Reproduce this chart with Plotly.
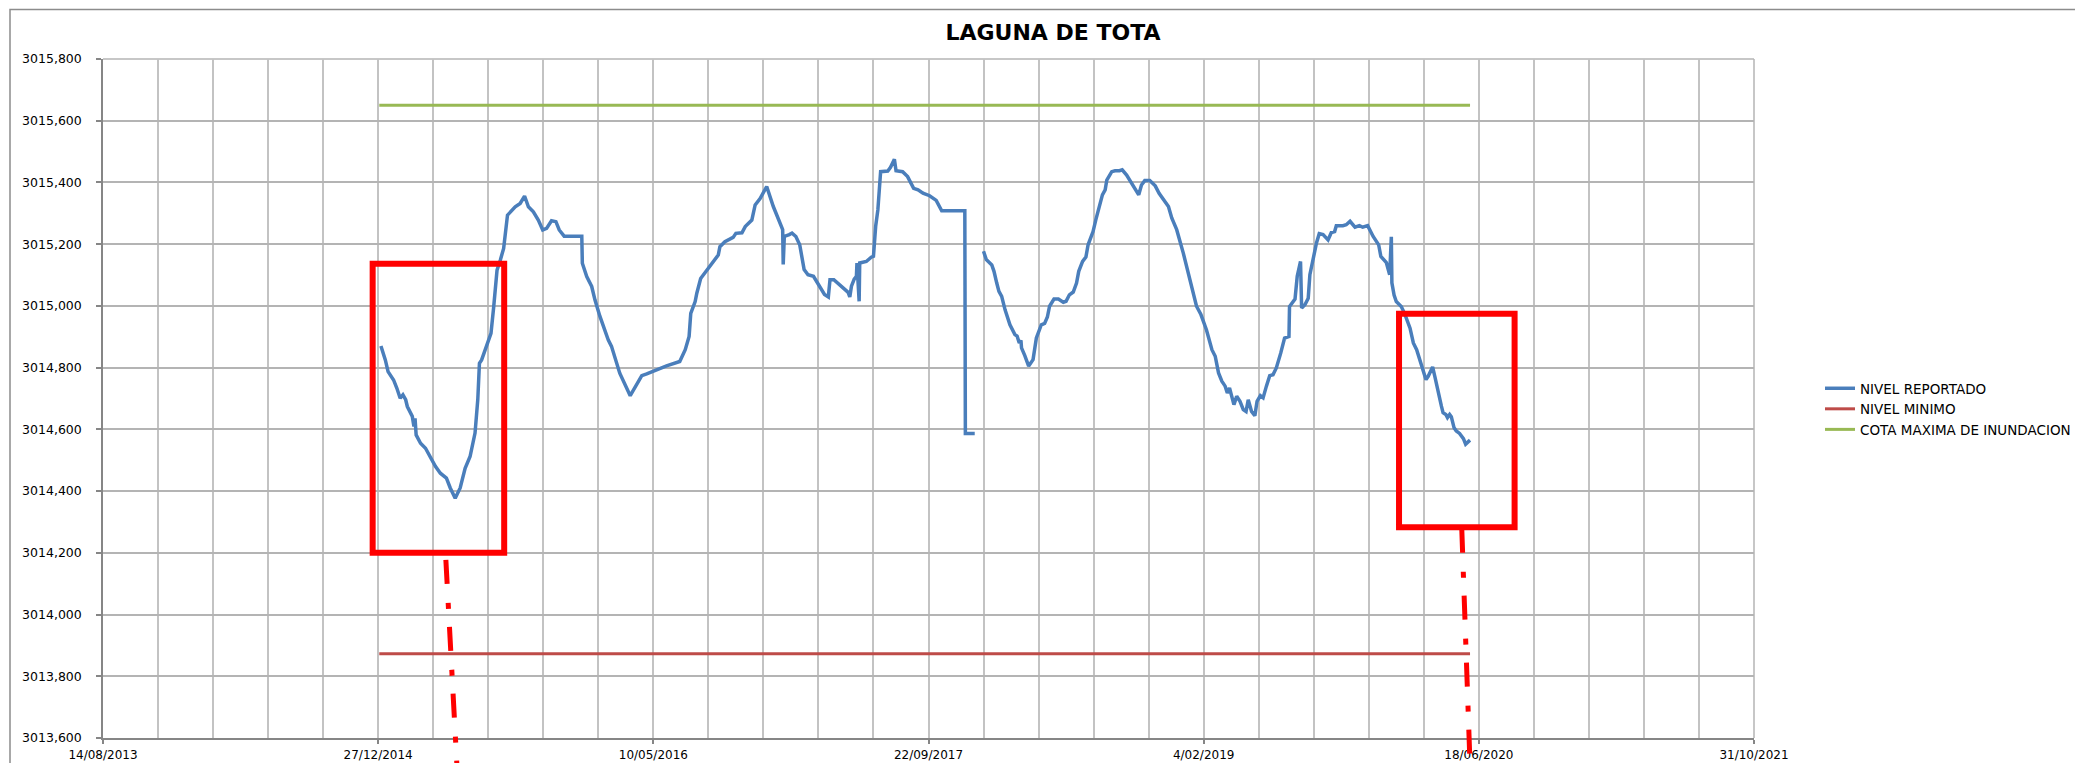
import datetime as dt
import plotly.graph_objects as go

# ---------------- data ----------------
base_date = dt.date(2013, 8, 14)

# days since 14/08/2013 for each reported level reading
dias_reportado = [
    505, 513, 518, 528, 534, 540, 545, 550, 553, 562, 565, 567, 569, 577, 586, 595, 604, 613, 624, 631,
    640, 649, 658, 667, 676, 681, 684, 688, 696, 705, 710, 716, 722, 728, 735, 743, 749, 758, 766, 773,
    782, 791, 799, 806, 815, 823, 829, 838, 870, 871, 879, 888, 894, 903, 918, 924, 939, 958, 967, 979,
    988, 1006, 1024, 1048, 1058, 1065, 1068, 1076, 1079, 1086, 1103, 1118, 1121, 1130, 1145, 1150, 1161,
    1167, 1179, 1185, 1194, 1206, 1218, 1227, 1235, 1236, 1238, 1247, 1252, 1259, 1266, 1274, 1281, 1291,
    1303, 1311, 1318, 1321, 1328, 1342, 1354, 1357, 1360, 1365, 1369, 1370, 1374, 1375, 1387, 1396, 1400,
    1404, 1408, 1413, 1426, 1431, 1438, 1441, 1453, 1462, 1473, 1481, 1490, 1502, 1514, 1524, 1566, 1567,
    1584, 1592,
    1600, 1605, 1615, 1619, 1624, 1628, 1633, 1639, 1648, 1657, 1661, 1665, 1668, 1669, 1675, 1682, 1690,
    1696, 1705, 1711, 1716, 1720, 1728, 1736, 1745, 1750, 1756, 1763, 1769, 1773, 1780, 1786, 1790, 1799,
    1804, 1812, 1816, 1821, 1824, 1833, 1839, 1847, 1852, 1860, 1867, 1875, 1882, 1887, 1893, 1902, 1912,
    1919, 1928, 1936, 1942, 1951, 1963, 1975, 1987, 1995, 1999, 2005, 2015, 2021, 2027, 2033, 2039, 2043,
    2047, 2051, 2055, 2060, 2066, 2072, 2077, 2081, 2087, 2093, 2097, 2103, 2108, 2114, 2120, 2126, 2132,
    2140, 2147, 2155, 2156, 2166, 2170, 2176, 2178, 2184, 2190, 2193, 2199, 2205, 2210, 2217, 2226, 2232,
    2238, 2241, 2253, 2259, 2266, 2275, 2283, 2289, 2298, 2308, 2318, 2322, 2332, 2338, 2341, 2342, 2346,
    2350, 2359, 2365, 2375, 2381, 2387, 2393, 2399, 2404, 2408, 2411, 2416, 2420, 2426, 2432, 2435, 2440,
    2443, 2447, 2450, 2455, 2459, 2465, 2472, 2476, 2479, 2484,
]

nivel_reportado = [
    3014.870, 3014.825, 3014.787, 3014.760, 3014.733, 3014.701, 3014.712, 3014.696, 3014.674, 3014.642,
    3014.609, 3014.636, 3014.582, 3014.555, 3014.539, 3014.507, 3014.480, 3014.458, 3014.442, 3014.410,
    3014.377, 3014.410, 3014.474, 3014.512, 3014.588, 3014.696, 3014.814, 3014.825, 3014.868, 3014.911,
    3014.998, 3015.116, 3015.149, 3015.186, 3015.294, 3015.310, 3015.321, 3015.332, 3015.356, 3015.321,
    3015.305, 3015.278, 3015.246, 3015.251, 3015.276, 3015.273, 3015.246, 3015.226, 3015.226, 3015.138,
    3015.095, 3015.063, 3015.019, 3014.966, 3014.890, 3014.869, 3014.782, 3014.709, 3014.739, 3014.774,
    3014.780, 3014.793, 3014.806, 3014.820, 3014.858, 3014.901, 3014.976, 3015.014, 3015.041, 3015.089,
    3015.127, 3015.165, 3015.192, 3015.208, 3015.222, 3015.235, 3015.237, 3015.257, 3015.278, 3015.327,
    3015.348, 3015.387, 3015.322, 3015.279, 3015.247, 3015.134, 3015.225, 3015.231, 3015.236, 3015.225,
    3015.198, 3015.118, 3015.101, 3015.096, 3015.058, 3015.037, 3015.029, 3015.085, 3015.085, 3015.064,
    3015.044, 3015.029, 3015.064, 3015.087, 3015.096, 3015.139, 3015.015, 3015.139, 3015.144, 3015.158,
    3015.161, 3015.258, 3015.311, 3015.435, 3015.437, 3015.449, 3015.475, 3015.438, 3015.435, 3015.419,
    3015.381, 3015.376, 3015.365, 3015.357, 3015.342, 3015.308, 3015.308, 3014.587,
    3014.587, None,
    3015.177, 3015.150, 3015.133, 3015.112, 3015.074, 3015.047, 3015.031, 3014.988, 3014.939, 3014.907,
    3014.902, 3014.880, 3014.888, 3014.864, 3014.839, 3014.805, 3014.826, 3014.896, 3014.939, 3014.943,
    3014.964, 3014.999, 3015.022, 3015.022, 3015.012, 3015.015, 3015.036, 3015.045, 3015.074, 3015.112,
    3015.144, 3015.158, 3015.198, 3015.241, 3015.279, 3015.333, 3015.360, 3015.376, 3015.408, 3015.435,
    3015.438, 3015.438, 3015.441, 3015.424, 3015.403, 3015.381, 3015.360, 3015.392, 3015.406, 3015.406,
    3015.389, 3015.365, 3015.344, 3015.322, 3015.285, 3015.247, 3015.171, 3015.085, 3014.999, 3014.972,
    3014.955, 3014.923, 3014.858, 3014.837, 3014.783, 3014.756, 3014.740, 3014.718, 3014.734, 3014.707,
    3014.680, 3014.707, 3014.691, 3014.664, 3014.658, 3014.696, 3014.658, 3014.644, 3014.691, 3014.709,
    3014.702, 3014.740, 3014.774, 3014.777, 3014.799, 3014.847, 3014.896, 3014.901, 3014.998, 3015.022,
    3015.096, 3015.144, 3014.993, 3015.004, 3015.025, 3015.101, 3015.155, 3015.204, 3015.234, 3015.231,
    3015.214, 3015.238, 3015.241, 3015.260, 3015.260, 3015.263, 3015.274, 3015.255, 3015.260, 3015.255,
    3015.260, 3015.225, 3015.198, 3015.160, 3015.140, 3015.101, 3015.224, 3015.075, 3015.035, 3015.014,
    3014.998, 3014.976, 3014.928, 3014.880, 3014.858, 3014.826, 3014.788, 3014.761, 3014.772, 3014.783,
    3014.802, 3014.772, 3014.718, 3014.675, 3014.654, 3014.648, 3014.638, 3014.648, 3014.641, 3014.605,
    3014.595, 3014.587, 3014.570, 3014.552, 3014.557, 3014.565,
]

# constant reference levels (start / end of the series)
dias_referencia = [502, 2484]
nivel_minimo = [3013.873, 3013.873]
cota_maxima = [3015.650, 3015.650]

serie_nombres = ["NIVEL REPORTADO", "NIVEL MINIMO", "COTA MAXIMA DE INUNDACION"]

# axis ticks
x_tick_dias = [0, 500, 1000, 1500, 2000, 2500, 3000]
x_tick_labels = ["14/08/2013", "27/12/2014", "10/05/2016", "22/09/2017",
                 "4/02/2019", "18/06/2020", "31/10/2021"]
y_range = [3013.6, 3015.8]

# highlight boxes (days, level) and dash-dot pointers
cajas = [
    {"d0": 490, "d1": 729, "v0": 3014.200, "v1": 3015.137},
    {"d0": 2355, "d1": 2565, "v0": 3014.283, "v1": 3014.975},
]
flechas = [
    {"d0": 623, "v0": 3014.177, "d1": 643, "v1": 3013.515},
    {"d0": 2469, "v0": 3014.278, "d1": 2484, "v1": 3013.515},
]


def fecha(d):
    return base_date + dt.timedelta(days=d)


x_rep = [fecha(d) for d in dias_reportado]
x_ref = [fecha(d) for d in dias_referencia]

BLUE = "#4a7ebb"
RED = "#be4b48"
GREEN = "#98b954"
FONT = "DejaVu Sans"

fig = go.Figure()
fig.add_trace(go.Scatter(x=x_rep, y=nivel_reportado, mode="lines", name=serie_nombres[0],
                         legendgroup="g1",
                         line=dict(color=BLUE, width=3.5), connectgaps=False))
fig.add_trace(go.Scatter(x=x_ref, y=nivel_minimo, mode="lines", name=serie_nombres[1],
                         legendgroup="g2",
                         line=dict(color=RED, width=3)))
fig.add_trace(go.Scatter(x=x_ref, y=cota_maxima, mode="lines", name=serie_nombres[2],
                         legendgroup="g3",
                         line=dict(color=GREEN, width=3)))

W, H = 2075, 763
ML, MR, MT, MB = 103, 321, 59, 25
PW, PH = W - ML - MR, H - MT - MB


def ypaper(v):
    return (v - y_range[0]) / (y_range[1] - y_range[0])


shapes = []
for c in cajas:
    shapes.append(dict(type="rect", xref="x", yref="y", x0=fecha(c["d0"]), x1=fecha(c["d1"]),
                       y0=c["v0"], y1=c["v1"], line=dict(color="#ff0000", width=6),
                       fillcolor="rgba(0,0,0,0)", layer="above"))
for f in flechas:
    shapes.append(dict(type="line", xref="x", yref="paper", x0=fecha(f["d0"]), x1=fecha(f["d1"]),
                       y0=ypaper(f["v0"]), y1=ypaper(f["v1"]),
                       line=dict(color="#ff0000", width=5, dash="24px,19px,6px,18px"), layer="above"))
# chart-area border
shapes.append(dict(type="rect", xref="paper", yref="paper",
                   x0=(10 - ML) / PW, x1=(W + 20 - ML) / PW,
                   y0=-(MB + 20) / PH, y1=(H - MB - 9.5) / PH,
                   line=dict(color="#8c8c8c", width=1.5), fillcolor="rgba(0,0,0,0)", layer="below"))
# right / top plot border lines
shapes.append(dict(type="line", xref="paper", yref="paper", x0=1, x1=1, y0=0, y1=1,
                   line=dict(color="#b4b4b4", width=1.5), layer="below"))
shapes.append(dict(type="line", xref="paper", yref="paper", x0=0, x1=1, y0=1, y1=1,
                   line=dict(color="#b4b4b4", width=1.5), layer="below"))

fig.update_layout(
    width=W, height=H,
    margin=dict(l=ML, r=MR, t=MT, b=MB),
    paper_bgcolor="white", plot_bgcolor="white",
    separators=",.",
    font=dict(family=FONT, size=12, color="#000000"),
    title=dict(text="<b>LAGUNA DE TOTA</b>", font=dict(family=FONT, size=22, color="#000000"),
               xref="container", x=1053 / W, xanchor="center",
               yref="container", y=1 - 32 / H, yanchor="middle"),
    showlegend=True,
    legend=dict(xref="container", yref="container", x=1820 / W, xanchor="left",
                y=1 - 373 / H, yanchor="top", font=dict(family=FONT, size=13.5, color="#000000"),
                bgcolor="rgba(0,0,0,0)", tracegroupgap=2, traceorder="normal"),
    shapes=shapes,
)

fig.update_xaxes(
    type="date",
    range=[fecha(0), fecha(3000)],
    tickmode="array",
    tickvals=[fecha(d) for d in x_tick_dias],
    ticktext=x_tick_labels,
    ticks="outside", ticklen=4, tickcolor="#868686", tickwidth=1.5,
    ticklabelstandoff=1,
    showline=True, linecolor="#868686", linewidth=1.5,
    showgrid=True, gridcolor="#c3c3c3", gridwidth=1.5,
    minor=dict(tickmode="linear", tick0=fecha(0), dtick=100 * 86400000,
               showgrid=True, gridcolor="#c3c3c3", gridwidth=1.5, ticks=""),
    tickfont=dict(family=FONT, size=12, color="#000000"),
    zeroline=False, mirror=False, automargin=False,
)
fig.update_yaxes(
    range=y_range,
    tickmode="linear", tick0=3013.6, dtick=0.2, tickformat=".3f",
    ticks="outside", ticklen=5, tickcolor="#868686", tickwidth=1.5,
    ticklabelstandoff=12,
    showline=True, linecolor="#868686", linewidth=1.5,
    showgrid=True, gridcolor="#b4b4b4", gridwidth=1.5,
    tickfont=dict(family=FONT, size=12.5, color="#000000"),
    zeroline=False, automargin=False,
)

fig.write_html(
    "out.html",
    config={"displayModeBar": False},
    post_script="document.documentElement.style.margin='0';document.body.style.margin='0';"
                "document.body.style.overflow='hidden';",
)
